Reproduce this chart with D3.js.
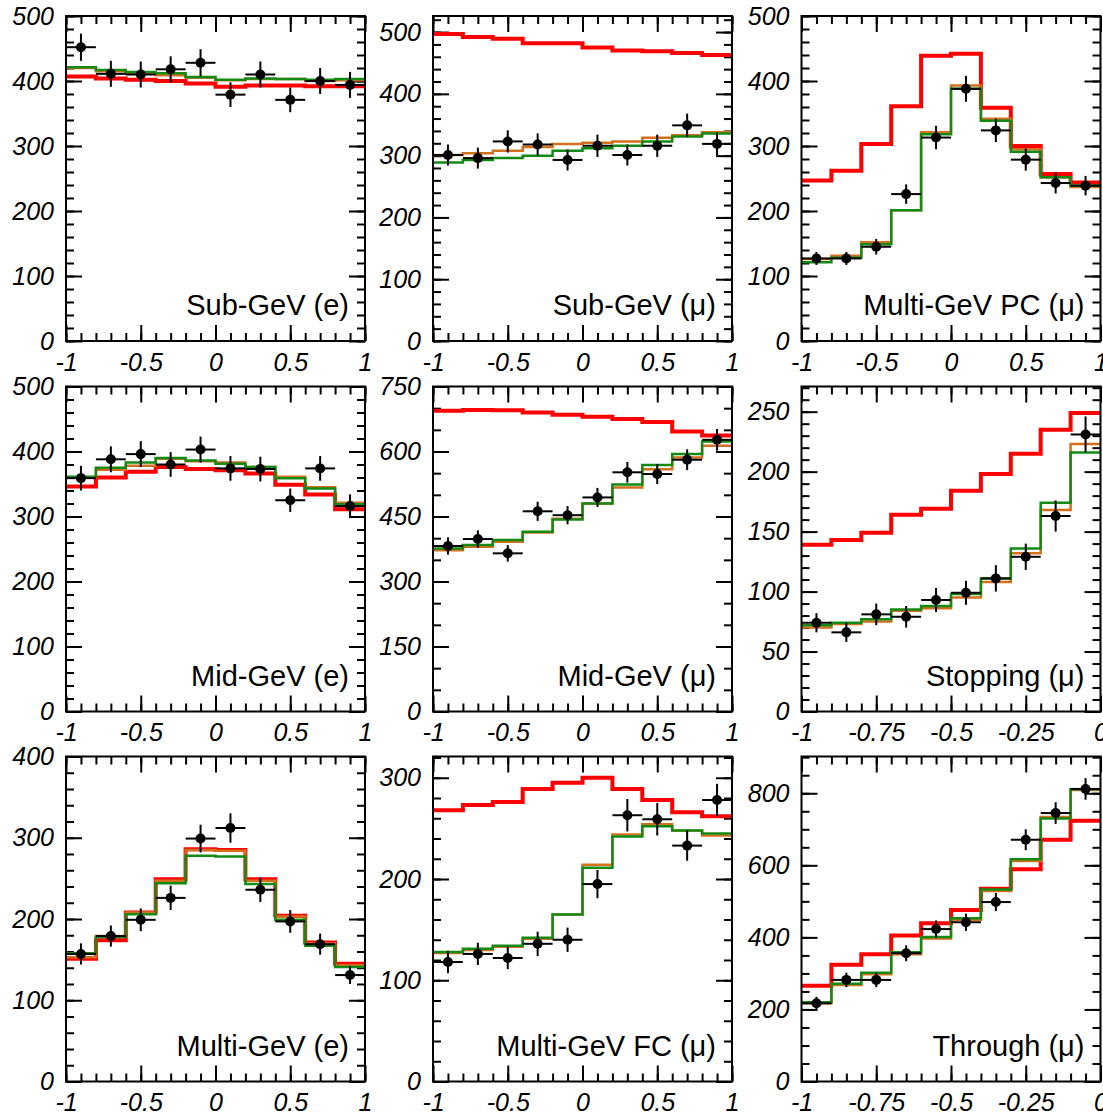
<!DOCTYPE html>
<html>
<head>
<meta charset="utf-8">
<script src="https://cdn.jsdelivr.net/npm/d3@7"></script>
<style>
  body { margin: 0; background: #fff; }
  svg { display: block; }
  .tick text { font-family: "Liberation Sans", Arial, sans-serif; font-style: italic; font-size: 25px; fill: #000; }
  .title { font-family: "Liberation Sans", Arial, sans-serif; font-size: 29px; fill: #000; }
</style>
</head>
<body>
<div id="chart"></div>
<script>
// bin edges (cos zenith)
const cosEdges = [-1, -0.8, -0.6, -0.4, -0.2, 0, 0.2, 0.4, 0.6, 0.8, 1];
const upEdges = [-1, -0.9, -0.8, -0.7, -0.6, -0.5, -0.4, -0.3, -0.2, -0.1, 0];
const cosTicks = [-1, -0.5, 0, 0.5, 1];
const upTicks = [-1, -0.75, -0.5, -0.25, 0];

// Sub-GeV (e)
const subE_data = [452, 411, 410, 418, 428, 379, 410, 371, 400, 394];
const subE_err = [21, 20, 20, 20, 21, 19, 20, 19, 20, 20];
const subE_red = [407, 404, 402, 400, 396, 391, 393, 393, 392, 392];
const subE_orange = [420, 415, 411, 409, 405, 401, 403, 403, 400, 401];
const subE_green = [421, 417, 414, 412, 406, 402, 404, 403, 402, 403];

// Sub-GeV (mu)
const subMu_data = [301, 296, 323, 318, 293, 316, 301, 316, 349, 319];
const subMu_err = [17, 17, 18, 18, 17, 18, 17, 18, 19, 18];
const subMu_red = [497, 492, 489, 482, 482, 475, 470, 469, 466, 463];
const subMu_orange = [301, 304, 308, 314, 319, 321, 323, 329, 333, 338];
const subMu_green = [289, 293, 296, 300, 308, 312, 316, 323, 331, 336];

// Multi-GeV PC (mu)
const pcMu_data = [127, 127, 145, 226, 313, 388, 324, 279, 243, 239];
const pcMu_err = [10, 10, 12, 15, 18, 20, 18, 17, 16, 15];
const pcMu_red = [247, 262, 303, 361, 439, 442, 359, 300, 257, 244];
const pcMu_orange = [126, 131, 152, 201, 321, 393, 342, 295, 252, 237];
const pcMu_green = [121, 128, 149, 201, 318, 388, 339, 291, 252, 239];

// Mid-GeV (e)
const midE_data = [359, 388, 396, 380, 403, 374, 373, 325, 374, 316];
const midE_err = [19, 20, 20, 19, 20, 19, 19, 18, 19, 18];
const midE_red = [346, 360, 369, 376, 373, 371, 366, 349, 334, 311];
const midE_orange = [360, 372, 378, 389, 385, 383, 376, 361, 345, 321];
const midE_green = [361, 375, 383, 390, 386, 381, 376, 359, 343, 319];

// Mid-GeV (mu)
const midMu_data = [382, 398, 365, 462, 453, 494, 552, 548, 581, 627];
const midMu_err = [20, 20, 19, 22, 21, 22, 24, 23, 24, 25];
const midMu_red = [694, 696, 695, 690, 685, 680, 675, 668, 646, 637];
const midMu_orange = [372, 380, 392, 413, 445, 480, 517, 559, 586, 613];
const midMu_green = [376, 384, 396, 415, 443, 480, 524, 569, 594, 623];

// Stopping (mu)
const stopMu_data = [74, 66, 81, 79, 93, 99, 111, 129, 163, 231];
const stopMu_err = [8, 8, 9, 9, 10, 10, 11, 11, 13, 15];
const stopMu_red = [139, 143, 149, 164, 169, 184, 198, 215, 235, 249];
const stopMu_orange = [70, 73, 75, 84, 86, 95, 108, 132, 168, 223];
const stopMu_green = [72, 74, 77, 85, 88, 98, 111, 136, 174, 216];

// Multi-GeV (e)
const multiE_data = [157, 179, 199, 226, 299, 312, 236, 197, 169, 131];
const multiE_err = [13, 13, 14, 15, 17, 18, 15, 14, 13, 11];
const multiE_red = [151, 174, 208, 249, 286, 285, 249, 204, 171, 145];
const multiE_orange = [153, 179, 208, 247, 285, 284, 247, 203, 170, 143];
const multiE_green = [158, 178, 206, 244, 278, 277, 243, 199, 167, 141];

// Multi-GeV FC (mu)
const fcMu_data = [118, 126, 122, 136, 140, 195, 263, 259, 233, 278];
const fcMu_err = [11, 11, 11, 12, 12, 14, 16, 16, 15, 16];
const fcMu_red = [268, 273, 276, 289, 295, 300, 289, 278, 266, 262];
const fcMu_orange = [127, 130, 133, 141, 165, 214, 244, 254, 248, 243];
const fcMu_green = [128, 131, 134, 142, 165, 211, 242, 252, 248, 245];

// Through-going (mu)
const thruMu_data = [217, 282, 282, 356, 423, 442, 498, 671, 745, 812];
const thruMu_err = [18, 20, 20, 22, 24, 24, 25, 29, 30, 30];
const thruMu_red = [266, 324, 353, 405, 439, 476, 535, 589, 671, 724];
const thruMu_orange = [217, 268, 298, 353, 397, 449, 529, 612, 734, 809];
const thruMu_green = [220, 271, 302, 359, 401, 453, 533, 617, 730, 811];

const panels = [
  { title: "Sub-GeV (e)", edges: cosEdges, xTicks: cosTicks, xMinor: 0.1, yMax: 500, yTicks: [0, 100, 200, 300, 400, 500], yMinor: 20,
    data: subE_data, err: subE_err, red: subE_red, orange: subE_orange, green: subE_green },
  { title: "Sub-GeV (\u03bc)", edges: cosEdges, xTicks: cosTicks, xMinor: 0.1, yMax: 526, yTicks: [0, 100, 200, 300, 400, 500], yMinor: 20,
    data: subMu_data, err: subMu_err, red: subMu_red, orange: subMu_orange, green: subMu_green },
  { title: "Multi-GeV PC (\u03bc)", edges: cosEdges, xTicks: cosTicks, xMinor: 0.1, yMax: 500, yTicks: [0, 100, 200, 300, 400, 500], yMinor: 20,
    data: pcMu_data, err: pcMu_err, red: pcMu_red, orange: pcMu_orange, green: pcMu_green },
  { title: "Mid-GeV (e)", edges: cosEdges, xTicks: cosTicks, xMinor: 0.1, yMax: 500, yTicks: [0, 100, 200, 300, 400, 500], yMinor: 20,
    data: midE_data, err: midE_err, red: midE_red, orange: midE_orange, green: midE_green },
  { title: "Mid-GeV (\u03bc)", edges: cosEdges, xTicks: cosTicks, xMinor: 0.1, yMax: 750, yTicks: [0, 150, 300, 450, 600, 750], yMinor: 50,
    data: midMu_data, err: midMu_err, red: midMu_red, orange: midMu_orange, green: midMu_green },
  { title: "Stopping (\u03bc)", edges: upEdges, xTicks: upTicks, xMinor: 0.05, yMax: 271, yTicks: [0, 50, 100, 150, 200, 250], yMinor: 10,
    data: stopMu_data, err: stopMu_err, red: stopMu_red, orange: stopMu_orange, green: stopMu_green },
  { title: "Multi-GeV (e)", edges: cosEdges, xTicks: cosTicks, xMinor: 0.1, yMax: 400, yTicks: [0, 100, 200, 300, 400], yMinor: 20,
    data: multiE_data, err: multiE_err, red: multiE_red, orange: multiE_orange, green: multiE_green },
  { title: "Multi-GeV FC (\u03bc)", edges: cosEdges, xTicks: cosTicks, xMinor: 0.1, yMax: 321, yTicks: [0, 100, 200, 300], yMinor: 20,
    data: fcMu_data, err: fcMu_err, red: fcMu_red, orange: fcMu_orange, green: fcMu_green },
  { title: "Through (\u03bc)", edges: upEdges, xTicks: upTicks, xMinor: 0.05, yMax: 902, yTicks: [0, 200, 400, 600, 800], yMinor: 50,
    data: thruMu_data, err: thruMu_err, red: thruMu_red, orange: thruMu_orange, green: thruMu_green }
];

const width = 1103, height = 1118;
const colX = [66, 433, 801.5], rowY = [16, 386.5, 756.5];
const pw = 299, ph = 325;
const major = 16, minor = 8;

const svg = d3.select("#chart")
  .append("svg")
  .attr("width", width)
  .attr("height", height);

panels.forEach((p, i) => {
  const g = svg.append("g")
    .attr("transform", `translate(${colX[i % 3]},${rowY[Math.floor(i / 3)]})`);

  const x = d3.scaleLinear().domain([p.edges[0], p.edges[p.edges.length - 1]]).range([0, pw]);
  const y = d3.scaleLinear().domain([0, p.yMax]).range([ph, 0]);

  const xMinorTicks = d3.range(p.edges[0], p.edges[p.edges.length - 1] + 1e-9, p.xMinor);
  const yMinorTicks = d3.range(0, p.yMax + 1e-9, p.yMinor);
  const fmt = d => String(+d.toFixed(2));

  // bottom / top axes
  g.append("g").attr("transform", `translate(0,${ph})`)
    .call(d3.axisBottom(x).tickValues(xMinorTicks).tickSize(-minor).tickFormat(""));
  g.append("g").attr("transform", `translate(0,${ph})`)
    .call(d3.axisBottom(x).tickValues(p.xTicks).tickSize(-major).tickPadding(12).tickFormat(fmt));
  g.append("g")
    .call(d3.axisTop(x).tickValues(xMinorTicks).tickSize(-minor).tickFormat(""));
  g.append("g")
    .call(d3.axisTop(x).tickValues(p.xTicks).tickSize(-major).tickFormat(""));

  // left / right axes
  g.append("g")
    .call(d3.axisLeft(y).tickValues(yMinorTicks).tickSize(-minor).tickFormat(""));
  g.append("g")
    .call(d3.axisLeft(y).tickValues(p.yTicks).tickSize(-major).tickPadding(12).tickFormat(fmt));
  g.append("g").attr("transform", `translate(${pw},0)`)
    .call(d3.axisRight(y).tickValues(yMinorTicks).tickSize(-minor).tickFormat(""));
  g.append("g").attr("transform", `translate(${pw},0)`)
    .call(d3.axisRight(y).tickValues(p.yTicks).tickSize(-major).tickFormat(""));

  g.selectAll(".domain").remove();
  g.selectAll(".tick line").attr("stroke", "#000").attr("stroke-width", 2);

  // step histograms
  const step = d3.line()
    .x(d => x(d[0]))
    .y(d => y(d[1]))
    .curve(d3.curveStepAfter);
  const stepData = vals => p.edges.map((e, k) => [e, vals[Math.min(k, vals.length - 1)]]);

  g.append("path").datum(stepData(p.red))
    .attr("fill", "none").attr("stroke", "#ff0000").attr("stroke-width", 4).attr("d", step);
  g.append("path").datum(stepData(p.orange))
    .attr("fill", "none").attr("stroke", "#d2701e").attr("stroke-width", 2.5).attr("d", step);
  g.append("path").datum(stepData(p.green))
    .attr("fill", "none").attr("stroke", "#138a13").attr("stroke-width", 2.5).attr("d", step);

  // data points with error bars
  const pts = p.data.map((v, k) => ({ lo: p.edges[k], hi: p.edges[k + 1], v: v, e: p.err[k] }));
  const pg = g.append("g");
  pg.selectAll(".hbar").data(pts).join("line")
    .attr("x1", d => x(d.lo)).attr("x2", d => x(d.hi))
    .attr("y1", d => y(d.v)).attr("y2", d => y(d.v))
    .attr("stroke", "#000").attr("stroke-width", 2);
  pg.selectAll(".vbar").data(pts).join("line")
    .attr("x1", d => x((d.lo + d.hi) / 2)).attr("x2", d => x((d.lo + d.hi) / 2))
    .attr("y1", d => y(d.v - d.e)).attr("y2", d => y(d.v + d.e))
    .attr("stroke", "#000").attr("stroke-width", 2);
  pg.selectAll("circle").data(pts).join("circle")
    .attr("cx", d => x((d.lo + d.hi) / 2)).attr("cy", d => y(d.v))
    .attr("r", 5).attr("fill", "#000");

  // frame
  g.append("rect")
    .attr("width", pw).attr("height", ph)
    .attr("fill", "none").attr("stroke", "#000").attr("stroke-width", 2);

  g.append("text").attr("class", "title")
    .attr("x", pw - 16).attr("y", ph - 26)
    .attr("text-anchor", "end")
    .text(p.title);
});
</script>
</body>
</html>
